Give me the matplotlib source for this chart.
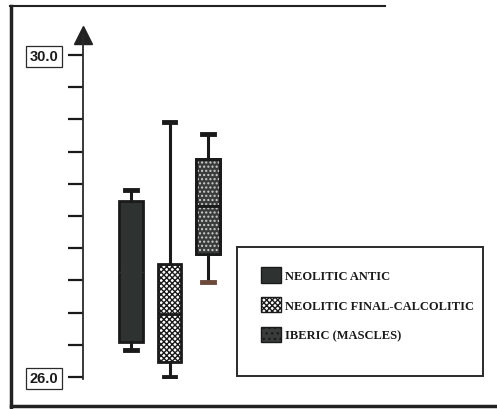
import matplotlib.pyplot as plt
from matplotlib.patches import Patch, Rectangle
from matplotlib.lines import Line2D

# box plot values (mm)
groups = ["NEOLITIC ANTIC", "NEOLITIC FINAL-CALCOLITIC", "IBERIC (MASCLES)"]
lows = [26.34, 26.00, 27.18]
q1s = [26.43, 26.19, 27.53]
meds = [27.30, 26.78, 28.12]
q3s = [28.19, 27.40, 28.71]
highs = [28.32, 29.17, 29.02]

yticks = [26.0, 26.4, 26.8, 27.2, 27.6, 28.0, 28.4, 28.8, 29.2, 29.6, 30.0]
ytick_labels = ["26.0", "", "", "", "", "", "", "", "", "", "30.0"]

W, H = 497, 410
fig = plt.figure(figsize=(W / 100, H / 100), dpi=100)

# axes: left spine is the value axis (x=83px), 30.0 at y=56px, 26.0 at y=378px
ax = fig.add_axes([83 / W, (H - 380) / H, (W - 83) / W, (380 - 36) / H])
ax.set_ylim(25.975, 30.248)
ax.set_xlim(-0.247, 10.506)

stats = []
for i, g in enumerate(groups):
    stats.append(dict(label=g, whislo=lows[i], q1=q1s[i], med=meds[i],
                      q3=q3s[i], whishi=highs[i], fliers=[]))

common = dict(widths=0.62, patch_artist=True, showfliers=False, manage_ticks=False)
bp = ax.bxp(stats, positions=[1, 2, 3], **common)

faces = ["#2e3230", "white", "#3a3b3b"]
hatches = [None, "xxxxxx", None]
for b, fc, h in zip(bp["boxes"], faces, hatches):
    b.set_facecolor(fc)
    b.set_edgecolor("#1a1a1a")
    b.set_linewidth(2)
    if h:
        b.set_hatch(h)
for w in bp["whiskers"]:
    w.set_color("#1a1a1a")
    w.set_linewidth(2.2)
for c in bp["caps"]:
    c.set_color("#1a1a1a")
    c.set_linewidth(3.5)
bp["caps"][4].set_color("#6b4a3c")
bp["medians"][0].set_color(faces[0])
for m in bp["medians"][1:]:
    m.set_color("#1a1a1a")
    m.set_linewidth(2)

# light speckled texture on the iberic box
ax.bxp([stats[2]], positions=[3], **common,
       boxprops=dict(facecolor="none", edgecolor="#cfcfcf", hatch="....", linewidth=0),
       whiskerprops=dict(linewidth=0), capprops=dict(linewidth=0),
       medianprops=dict(linewidth=0))
ax.bxp([stats[2]], positions=[3], **common,
       boxprops=dict(facecolor="none", edgecolor="#1a1a1a", linewidth=2),
       whiskerprops=dict(linewidth=0), capprops=dict(linewidth=0),
       medianprops=dict(color="#1a1a1a", linewidth=1.5))

# value axis
for s in ["top", "right", "bottom"]:
    ax.spines[s].set_visible(False)
ax.spines["left"].set_color("#2a2a2a")
ax.spines["left"].set_linewidth(1.3)
ax.set_xticks([])
ax.set_yticks(yticks)
ax.set_yticklabels(ytick_labels, fontfamily="Liberation Sans", fontweight="bold",
                   fontsize=10.5, color="#1a1a1a")
ax.tick_params(axis="y", direction="out", length=11, width=1.6, color="#1a1a1a", pad=7)
for lab in ax.get_yticklabels():
    lab.set_bbox(dict(boxstyle="square,pad=0.25", facecolor="white",
                      edgecolor="#2a2a2a", linewidth=0.9))
ax.plot(0, 1, marker="^", markersize=13, color="#222222", transform=ax.transAxes,
        clip_on=False)

# legend
handles = [Patch(facecolor=faces[0], edgecolor="#1a1a1a"),
           Patch(facecolor="white", edgecolor="#1a1a1a", hatch="xxxxxx"),
           Patch(facecolor=faces[2], edgecolor="#1a1a1a", hatch="...")]
leg = ax.legend(handles, groups, loc="upper left",
                bbox_to_anchor=(255 / W, 1 - 262 / H), bbox_transform=fig.transFigure,
                frameon=False, borderpad=0, handlelength=1.6, handleheight=1.5,
                handletextpad=0.3, labelspacing=1.15,
                prop=dict(family="Liberation Serif", size=9, weight="bold"))
for t in leg.get_texts():
    t.set_color("#1a1a1a")
fig.add_artist(Rectangle((237 / W, 1 - 377 / H), 246 / W, 129 / H, fill=False,
                         edgecolor="#2a2a2a", linewidth=1.4, transform=fig.transFigure))

# outer frame of the scanned figure
fig.add_artist(Line2D([10 / W, 385 / W], [1 - 7 / H, 1 - 7 / H], color="#222222",
                      linewidth=1.5, transform=fig.transFigure))
fig.add_artist(Line2D([11 / W, 11 / W], [1 - 7 / H, 0], color="#222222",
                      linewidth=2.5, transform=fig.transFigure))
fig.add_artist(Line2D([11 / W, 1], [1 - 407 / H, 1 - 407 / H], color="#222222",
                      linewidth=2.5, transform=fig.transFigure))

fig.savefig("out.png", dpi=100)
